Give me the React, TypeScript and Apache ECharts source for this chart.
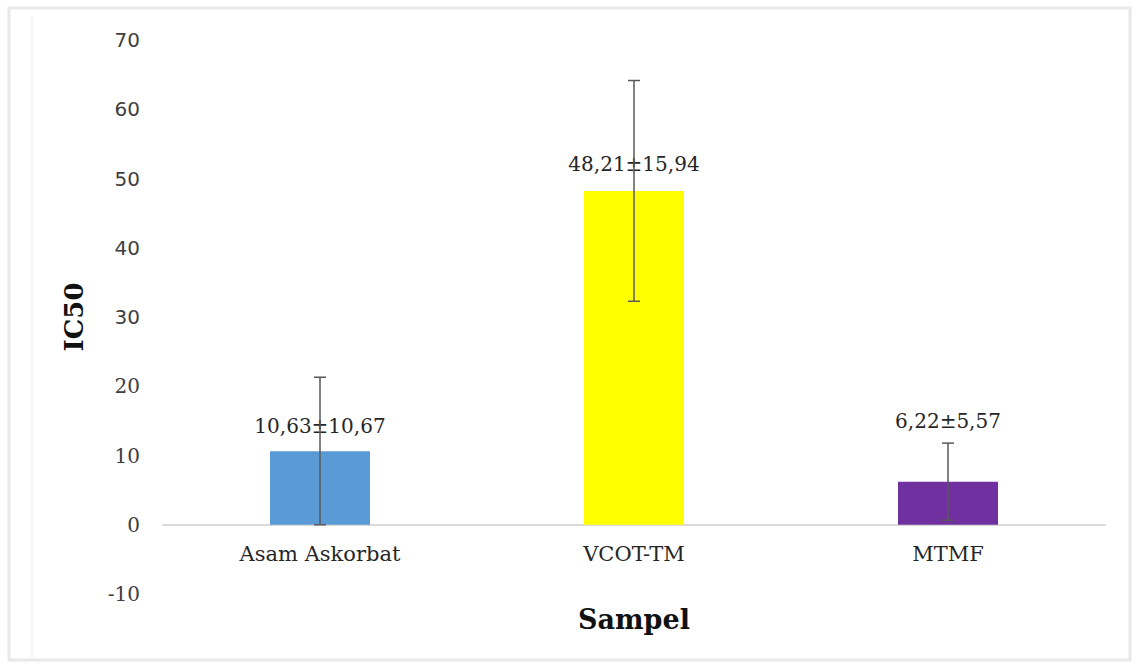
import React, { useEffect, useRef } from "react";
import * as echarts from "echarts";

const categories = ["Asam Askorbat", "VCOT-TM", "MTMF"];
const means = [10.63, 48.21, 6.22];
const sds = [10.67, 15.94, 5.57];
const barColors = ["#5B9BD5", "#FFFF00", "#7030A0"];
const labelDistances = [15, 17, 51];
const yTicks = { min: -10, max: 70, interval: 10 };

const fmt = (v: number) => v.toFixed(2).replace(".", ",");

export default function App() {
  const ref = useRef<HTMLDivElement>(null);
  useEffect(() => {
    document.body.style.margin = "0";
    const chart = echarts.init(ref.current!, null, { renderer: "svg" });
    const serif = "DejaVu Serif";
    chart.setOption({
      animation: false,
      backgroundColor: "#ffffff",
      graphic: [
        {
          type: "rect",
          shape: { x: 9, y: 8, width: 1121, height: 652 },
          style: { fill: "none", stroke: "#e8e8e8", lineWidth: 3 },
          silent: true,
        },
        {
          type: "line",
          shape: { x1: 32, y1: 16, x2: 32, y2: 658 },
          style: { stroke: "#f0f0f0", lineWidth: 1.5 },
          silent: true,
        },
      ],
      grid: { left: 163, right: 31, top: 40, bottom: 72, outerBoundsMode: "none", containLabel: false },
      xAxis: {
        type: "category",
        data: categories,
        name: "Sampel",
        nameLocation: "middle",
        nameGap: 12,
        nameTextStyle: { fontFamily: serif, fontWeight: "bold", fontSize: 27, color: "#111111" },
        axisLine: { show: true, onZero: true, lineStyle: { color: "#d9d9d9", width: 2 } },
        axisTick: { show: false },
        axisLabel: { fontFamily: serif, fontSize: 21, color: "#262626", margin: -51 },
      },
      yAxis: {
        type: "value",
        min: yTicks.min,
        max: yTicks.max,
        interval: yTicks.interval,
        name: "IC50",
        nameLocation: "middle",
        nameGap: 76,
        nameTextStyle: { fontFamily: serif, fontWeight: "bold", fontSize: 26, color: "#111111" },
        axisLine: { show: false },
        axisTick: { show: false },
        splitLine: { show: false },
        axisLabel: {
          margin: 23,
          formatter: (v: number) => (v >= 30 ? `{s|${v}}` : `{r|${v}}`),
          rich: {
            s: { fontFamily: "DejaVu Sans", fontSize: 20, color: "#404040" },
            r: { fontFamily: serif, fontSize: 20, color: "#404040" },
          },
        },
      },
      series: [
        {
          type: "bar",
          barWidth: 100,
          data: means.map((m, i) => ({
            value: m,
            itemStyle: { color: barColors[i] },
            label: {
              show: true,
              position: "top",
              distance: labelDistances[i],
              formatter: `${fmt(m)}±${fmt(sds[i])}`,
              fontFamily: serif,
              fontSize: 20,
              color: "#262626",
            },
          })),
          z: 2,
        },
        {
          type: "custom",
          z: 5,
          data: means.map((m, i) => [i, m - sds[i], m + sds[i]]),
          renderItem: (params: any, api: any) => {
            const x = api.value(0);
            const lo = api.coord([x, Math.max(api.value(1), 0)]);
            const hi = api.coord([x, api.value(2)]);
            const cap = 6;
            const style = { stroke: "#595959", lineWidth: 1.5 };
            return {
              type: "group",
              children: [
                { type: "line", shape: { x1: hi[0], y1: hi[1], x2: lo[0], y2: lo[1] }, style },
                { type: "line", shape: { x1: hi[0] - cap, y1: hi[1], x2: hi[0] + cap, y2: hi[1] }, style },
                { type: "line", shape: { x1: lo[0] - cap, y1: lo[1], x2: lo[0] + cap, y2: lo[1] }, style },
              ],
            };
          },
        },
      ],
    });
    return () => chart.dispose();
  }, []);
  return <div ref={ref} style={{ width: 1136, height: 666 }} />;
}
